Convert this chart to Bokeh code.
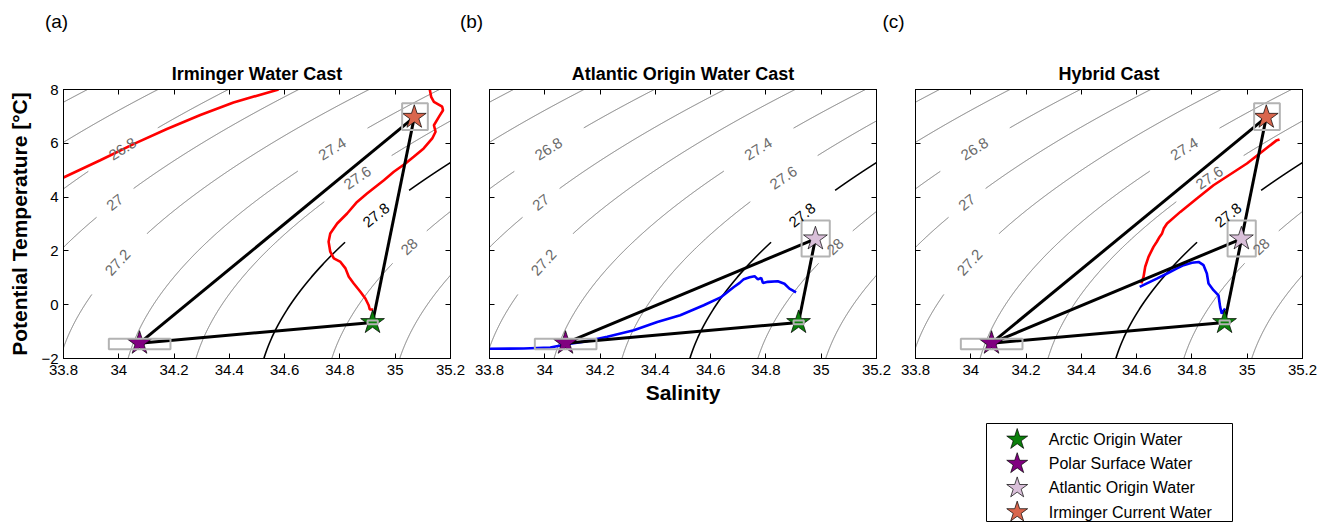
import numpy as np
from bokeh.plotting import figure
from bokeh.models import Range1d, LinearAxis, FixedTicker, Label, Spacer
from bokeh.layouts import row, column
from bokeh.embed import file_html
from bokeh.resources import INLINE
from bokeh.core.properties import value

FONT = "Liberation Sans"

# ---------------- data ----------------
x_ticks = [33.8, 34.0, 34.2, 34.4, 34.6, 34.8, 35.0, 35.2]
x_tick_labels = ["33.8", "34", "34.2", "34.4", "34.6", "34.8", "35", "35.2"]
y_ticks = [-2, 0, 2, 4, 6, 8]
y_tick_labels = ["\u22122", "0", "2", "4", "6", "8"]

panel_titles = ["Irminger Water Cast", "Atlantic Origin Water Cast", "Hybrid Cast"]
panel_tags = ["(a)", "(b)", "(c)"]

# end members: Arctic Origin, Polar Surface, Atlantic Origin, Irminger Current
em_names = ["Arctic Origin Water", "Polar Surface Water",
            "Atlantic Origin Water", "Irminger Current Water"]
em_S = [34.918, 34.075, 34.979, 35.069]
em_T = [-0.66, -1.43, 2.45, 6.97]
em_colors = ["#0b800b", "#800080", "#d9bfd9", "#d9664d"]

# uncertainty boxes round the end members
box_S_lo = [34.900, 33.964, 34.929, 35.025]
box_S_hi = [34.937, 34.187, 35.031, 35.118]
box_T_lo = [-0.73, -1.66, 1.79, 6.49]
box_T_hi = [-0.59, -1.27, 3.13, 7.49]

panel_members = [[0, 1, 3], [0, 1, 2], [0, 1, 2, 3]]
panel_links = [[(1, 3), (3, 0), (0, 1)],
               [(1, 2), (2, 0), (0, 1)],
               [(1, 3), (3, 0), (0, 1), (1, 2)]]

# isopycnal levels (sigma-theta) and their labels
sigma_levels = [26.4, 26.6, 26.8, 27.0, 27.2, 27.4, 27.6, 27.8, 28.0, 28.2, 28.4]
black_level = 27.8
label_levels = [26.8, 27.0, 27.2, 27.4, 27.6, 27.8, 28.0]
label_texts = ["26.8", "27", "27.2", "27.4", "27.6", "27.8", "28"]
label_S = [34.018, 33.987, 34.005, 34.777, 34.867, 34.934, 35.054]
label_T = [5.71, 3.79, 1.49, 5.71, 4.65, 3.30, 2.12]

# (a) Irminger water cast profile (red), two pieces inside the axes
a_red1_S = [33.800, 33.933, 34.053, 34.174, 34.295, 34.415, 34.578]
a_red1_T = [4.73, 5.37, 5.97, 6.53, 7.05, 7.52, 8.00]
a_red2_S = [35.125, 35.130, 35.140, 35.170, 35.173, 35.158, 35.140, 35.146, 35.134,
            35.103, 35.067, 35.037, 34.995, 34.959, 34.898, 34.862, 34.826, 34.790,
            34.765, 34.759, 34.765, 34.778, 34.802, 34.820, 34.832, 34.850, 34.874,
            34.892, 34.904, 34.908, 34.920]
a_red2_T = [8.00, 7.73, 7.54, 7.36, 7.23, 6.98, 6.67, 6.43, 6.18,
            5.81, 5.50, 5.25, 4.94, 4.63, 4.13, 3.82, 3.39, 3.02,
            2.65, 2.34, 1.97, 1.72, 1.59, 1.35, 1.04, 0.79, 0.48,
            0.23, -0.02, -0.18, -0.18]

# (b) Atlantic origin water cast (blue)
b_blue_S = [33.800, 33.924, 34.020, 34.080, 34.141, 34.226, 34.322, 34.407, 34.490,
            34.575, 34.636, 34.684, 34.705, 34.720, 34.741, 34.759, 34.771, 34.783,
            34.789, 34.807, 34.843, 34.867, 34.885, 34.909]
b_blue_T = [-1.64, -1.63, -1.59, -1.47, -1.38, -1.19, -0.95, -0.64, -0.39,
            -0.02, 0.27, 0.66, 0.81, 0.95, 1.02, 1.06, 0.94, 1.00,
            0.81, 0.85, 0.87, 0.78, 0.60, 0.46]

# (c) hybrid cast: red and blue parts
c_red_S = [35.117, 35.105, 34.999, 34.878, 34.818, 34.758, 34.710, 34.698, 34.692,
           34.683, 34.673, 34.661, 34.643, 34.631, 34.625, 34.617]
c_red_T = [6.14, 6.10, 5.25, 4.44, 3.95, 3.45, 3.02, 2.83, 2.65,
           2.52, 2.34, 2.15, 1.78, 1.41, 1.04, 0.79]
c_blue_S = [34.611, 34.637, 34.673, 34.710, 34.746, 34.770, 34.800, 34.824, 34.842,
            34.854, 34.860, 34.878, 34.896, 34.902, 34.908, 34.920]
c_blue_T = [0.66, 0.79, 0.97, 1.16, 1.35, 1.47, 1.56, 1.59, 1.47,
            1.16, 0.79, 0.54, 0.35, -0.08, -0.33, -0.14]

panel_profiles = [
    [(a_red1_S, a_red1_T, "#ff0000"), (a_red2_S, a_red2_T, "#ff0000")],
    [(b_blue_S, b_blue_T, "#0000ff")],
    [(c_blue_S, c_blue_T, "#0000ff"), (c_red_S, c_red_T, "#ff0000")],
]

# ---------------- layout constants ----------------
FRAME_W, FRAME_H = 387, 269
PX_S = FRAME_W / (x_ticks[-1] - x_ticks[0])
PX_T = FRAME_H / (y_ticks[-1] - y_ticks[0])
BORDERS = [(63, 20), (19, 20), (19, 17)]
STRIP_H = 48
TOP, BOTTOM = 41, 60
LEG_H = 104
LABEL_PX = 15


# ---------------- sea-water density (UNESCO 1980, surface) ----------------
def sigma0(S, T):
    rw = (999.842594 + 6.793952e-2 * T - 9.095290e-3 * T ** 2 + 1.001685e-4 * T ** 3
          - 1.120083e-6 * T ** 4 + 6.536332e-9 * T ** 5)
    A = 8.24493e-1 - 4.0899e-3 * T + 7.6438e-5 * T ** 2 - 8.2467e-7 * T ** 3 + 5.3875e-9 * T ** 4
    B = -5.72466e-3 + 1.0227e-4 * T - 1.6546e-6 * T ** 2
    C = 4.8314e-4
    return rw + A * S + B * S ** 1.5 + C * S ** 2 - 1000.0


def isopycnal(level, T):
    S = np.full_like(T, 34.5)
    h = 1e-4
    for _ in range(40):
        f = sigma0(S, T) - level
        d = (sigma0(S + h, T) - sigma0(S - h, T)) / (2 * h)
        S = S - f / d
    return S


T_grid = np.linspace(-2.6, 8.6, 1200)
contours = {}
for lev in sigma_levels:
    contours[lev] = [isopycnal(lev, T_grid), T_grid.copy()]

label_specs = []
for lev, txt, s0, t0 in zip(label_levels, label_texts, label_S, label_T):
    S, T = contours[lev]
    d = np.hypot((S - s0) * PX_S, (T - t0) * PX_T)
    i = int(np.argmin(d))
    sx, tx = S[i], T[i]
    ang = np.arctan2((T[i + 1] - T[i - 1]) * PX_T, (S[i + 1] - S[i - 1]) * PX_S)
    tw = 14 * sum(0.278 if ch == "." else 0.556 for ch in txt)
    gap = 1.5 * tw
    dd = np.hypot((S - sx) * PX_S, (T - tx) * PX_T)
    S = S.copy()
    S[dd < gap] = np.nan
    contours[lev] = [S, T]
    label_specs.append((lev, txt, sx, tx, ang))


def make_axis(kind, show_labels):
    ticks = x_ticks if kind == "x" else y_ticks
    labels = x_tick_labels if kind == "x" else y_tick_labels
    ax = LinearAxis(ticker=FixedTicker(ticks=ticks))
    ax.major_tick_in = 5
    ax.major_tick_out = 0
    ax.minor_tick_line_color = None
    ax.major_tick_line_color = "black"
    ax.axis_line_color = "black"
    if show_labels:
        ax.major_label_overrides = {t: l for t, l in zip(ticks, labels)}
        ax.major_label_standoff = 5
        ax.major_label_text_font = FONT
        ax.major_label_text_color = "black"
        ax.major_label_text_font_size = "15px"
    else:
        ax.major_label_standoff = 0
        ax.major_label_text_color = None
        ax.major_label_text_font_size = "0px"
    ax.axis_label_text_font = FONT
    ax.axis_label_text_font_style = "bold"
    ax.axis_label_text_font_size = "21px"
    ax.axis_label_text_color = "black"
    return ax


def make_panel(k):
    bl, br = BORDERS[k]
    p = figure(width=bl + FRAME_W + br, height=TOP + FRAME_H + BOTTOM,
               x_range=Range1d(x_ticks[0], x_ticks[-1]),
               y_range=Range1d(y_ticks[0], y_ticks[-1]),
               x_axis_type=None, y_axis_type=None,
               output_backend="svg", toolbar_location=None,
               min_border_left=bl, min_border_right=br,
               min_border_top=TOP, min_border_bottom=BOTTOM)
    p.outline_line_color = "black"
    p.outline_line_width = 1
    p.background_fill_color = "white"
    p.border_fill_color = "white"

    xb = make_axis("x", True)
    xb.major_label_standoff = 6
    if k == 1:
        xb.axis_label = "Salinity"
        xb.axis_label_standoff = 3
    p.add_layout(xb, "below")
    yl = make_axis("y", k == 0)
    if k == 0:
        yl.axis_label = "Potential Temperature [\u00b0C]"
        yl.axis_label_standoff = 7
    p.add_layout(yl, "left")
    p.add_layout(make_axis("x", False), "above")
    p.add_layout(make_axis("y", False), "right")

    p.title.text = panel_titles[k]
    p.title.align = "center"
    p.title.text_font = FONT
    p.title.text_font_size = "18px"
    p.title.text_font_style = "bold"
    p.title.text_color = "black"
    p.title.standoff = 12

    # isopycnals
    for lev in sigma_levels:
        S, T = contours[lev]
        if lev == black_level:
            p.line(S, T, line_color="black", line_width=1.6)
        else:
            p.line(S, T, line_color="#6a6a6a", line_width=0.9)

    # profiles
    for S, T, col in panel_profiles[k]:
        p.line(S, T, line_color=col, line_width=2.6)

    # mixing lines
    xs = [[em_S[i], em_S[j]] for i, j in panel_links[k]]
    ys = [[em_T[i], em_T[j]] for i, j in panel_links[k]]
    p.multi_line(xs, ys, line_color="black", line_width=3)

    m = panel_members[k]
    p.scatter([em_S[i] for i in m], [em_T[i] for i in m], marker="star", size=25,
              fill_color=[em_colors[i] for i in m], line_color="black", line_width=0.7)
    p.quad(left=[box_S_lo[i] for i in m], right=[box_S_hi[i] for i in m],
           bottom=[box_T_lo[i] for i in m], top=[box_T_hi[i] for i in m],
           fill_color=None, line_color="#b3b3b3", line_width=2)

    for lev, txt, sx, tx, ang in label_specs:
        p.add_layout(Label(x=sx, y=tx, text=txt, angle=float(ang),
                           text_align="center", text_baseline="middle",
                           text_font=FONT, text_font_size=f"{LABEL_PX}px",
                           text_color="black" if lev == black_level else "#6a6a6a"))
    return p


panels = [make_panel(k) for k in range(3)]
total_w = sum(p.width for p in panels)

# strip with panel tags
tag_x = [56, 471, 893]
strip = figure(width=total_w, height=STRIP_H, x_range=Range1d(0, total_w),
               y_range=Range1d(STRIP_H, 0),
               x_axis_type=None, y_axis_type=None, output_backend="svg",
               toolbar_location=None, min_border=0)
strip.outline_line_color = None
strip.text(x=tag_x, y=[21, 21, 21], text=panel_tags, text_font=value(FONT),
           text_font_size="19px", text_align="center", text_baseline="middle",
           text_color="black")

# legend panel
row_top, row_step = 16, 24.2
leg_frame_h = LEG_H - 5
leg = figure(width=248, height=LEG_H, x_range=Range1d(-30.7, 215.3),
             y_range=Range1d((leg_frame_h - row_top) / row_step, -row_top / row_step),
             x_axis_type=None, y_axis_type=None, output_backend="svg",
             toolbar_location=None, min_border_left=1, min_border_right=1,
             min_border_top=5, min_border_bottom=0)
leg.outline_line_color = "black"
rows_idx = list(range(len(em_names)))
leg.scatter([0] * len(em_names), rows_idx, marker="star", size=22,
            fill_color=em_colors, line_color="black", line_width=0.7)
leg.text([0] * len(em_names), rows_idx, text=em_names, x_offset=31.6,
         text_font=value(FONT), text_font_size="16px", text_align="left",
         text_baseline="middle", text_color="black")

layout = column(strip, row(*panels), row(Spacer(width=985, height=LEG_H), leg))

open("out.html", "w").write(file_html(layout, INLINE))
